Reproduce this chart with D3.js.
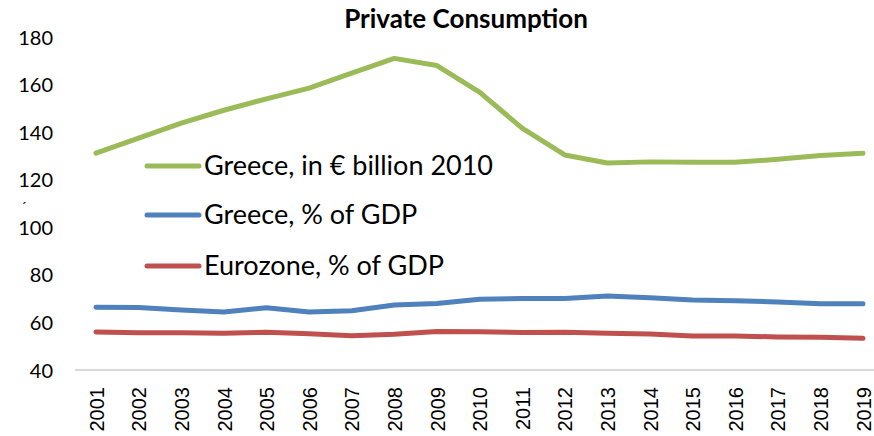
<!DOCTYPE html>
<html><head><meta charset="utf-8">
<script src="https://cdn.jsdelivr.net/npm/d3@7"></script>
<style>body{margin:0;background:#fff}svg{display:block}</style>
</head><body><svg id="c" width="874" height="436"></svg>
<script>
const years = ["2001","2002","2003","2004","2005","2006","2007","2008","2009","2010","2011","2012","2013","2014","2015","2016","2017","2018","2019"];
const greeceBillion = [131.2,137.5,143.8,149.2,154.0,158.5,164.8,171.0,168.0,156.8,141.7,130.4,127.0,127.5,127.3,127.3,128.6,130.2,131.1];
const greeceGDP = [66.4,66.3,65.2,64.4,66.2,64.4,64.9,67.3,68.0,69.7,70.1,70.1,71.1,70.4,69.4,69.1,68.6,67.9,67.9];
const euroGDP = [56.0,55.7,55.7,55.5,55.9,55.2,54.4,55.0,56.2,56.1,55.8,55.9,55.5,55.1,54.3,54.3,53.9,53.8,53.3];
const yTicks = [40,60,80,100,120,140,160,180];
const seriesNames = ["Greece, in € billion 2010","Greece, % of GDP","Eurozone, % of GDP"];
const seriesColors = ["#9BBB59","#4F81BD","#C0504D"];

const svg = d3.select("#c");
const x = d3.scalePoint().domain(years).range([96,863]);
const y = d3.scaleLinear().domain([40,180]).range([370,37]);

// title
svg.append("text").attr("x",466).attr("y",28).attr("text-anchor","middle")
  .attr("font-family","Lato").attr("font-weight","bold").attr("font-size",26).text("Private Consumption");

// y axis labels
const yAxis = d3.axisLeft(y).tickValues(yTicks).tickSize(0).tickPadding(0);
const gy = svg.append("g").attr("transform","translate(53,0)").call(yAxis);
gy.select(".domain").remove();
gy.selectAll("text").attr("font-family","Lato").attr("font-size",20).attr("fill","#000").attr("dy","0.35em");

// x axis
const xAxis = d3.axisBottom(x).tickSize(0).tickPadding(0);
const gx = svg.append("g").attr("transform","translate(0,370)").call(xAxis);
gx.select(".domain").remove();
gx.append("line").attr("x1",75).attr("x2",874).attr("y1",0).attr("y2",0).attr("stroke","#d9d9d9").attr("stroke-width",2);
gx.selectAll(".tick text").attr("font-family","Liberation Sans").attr("font-size",20).attr("fill","#000")
  .attr("text-anchor","end").attr("transform","rotate(-90)").attr("x",-17).attr("y",0).attr("dy","0.36em");

// lines
const line = d3.line().x((d,i)=>x(years[i])).y(d=>y(d));
[greeceBillion,greeceGDP,euroGDP].forEach((s,k)=>{
  svg.append("path").attr("d",line(s)).attr("fill","none").attr("stroke",seriesColors[k])
    .attr("stroke-width",5).attr("stroke-linejoin","round").attr("stroke-linecap","round");
});

// legend
const legY = [166,215,266];
seriesNames.forEach((n,k)=>{
  svg.append("line").attr("x1",147).attr("x2",199).attr("y1",legY[k]).attr("y2",legY[k])
    .attr("stroke",seriesColors[k]).attr("stroke-width",5).attr("stroke-linecap","round");
  svg.append("text").attr("x",204).attr("y",legY[k]).attr("dy","0.35em")
    .attr("font-family","Lato").attr("font-size",27).attr("fill","#000").text(n);
});

// stray mark
svg.append("text").attr("x",21).attr("y",212).attr("font-family","Lato").attr("font-size",14).text("´");
</script></body></html>
